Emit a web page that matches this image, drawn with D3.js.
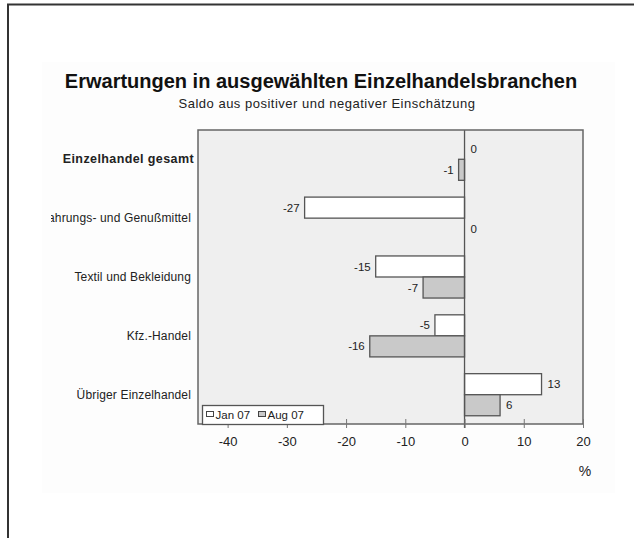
<!DOCTYPE html>
<html>
<head>
<meta charset="utf-8">
<script src="https://cdn.jsdelivr.net/npm/d3@7"></script>
<style>
  html, body { margin: 0; padding: 0; background: #fff; }
  svg { display: block; font-family: "Liberation Sans", Arial, sans-serif; }
</style>
</head>
<body>
<svg id="chart" width="634" height="538"></svg>
<script>
// ---- data ----
const categories = ["Einzelhandel gesamt", "Nahrungs- und Genußmittel", "Textil und Bekleidung", "Kfz.-Handel", "Übriger Einzelhandel"];
const seriesNames = ["Jan 07", "Aug 07"];
const jan07 = [0, -27, -15, -5, 13];
const aug07 = [-1, 0, -7, -16, 6];
const xTicks = [-40, -30, -20, -10, 0, 10, 20];
const titleText = "Erwartungen in ausgewählten Einzelhandelsbranchen";
const subtitleText = "Saldo aus positiver und negativer Einschätzung";
const unitText = "%";

// ---- layout ----
const svg = d3.select("#chart");
const W = 634, H = 538;
const plot = { left: 198, right: 583, top: 130, bottom: 424 };
const colors = { "Jan 07": "#ffffff", "Aug 07": "#c9c9c9" };
const textColor = "#222";

// page frame
svg.append("rect").attr("x", 42).attr("y", 62).attr("width", 573).attr("height", 431).attr("fill", "#fdfdfd");
svg.append("line").attr("x1", 7).attr("x2", W).attr("y1", 4.5).attr("y2", 4.5).attr("stroke", "#333").attr("stroke-width", 2);
svg.append("line").attr("x1", 8).attr("x2", 8).attr("y1", 4).attr("y2", H).attr("stroke", "#333").attr("stroke-width", 2);

// titles
svg.append("text").attr("x", 321).attr("y", 88).attr("text-anchor", "middle")
  .attr("font-size", 20).attr("font-weight", "bold").attr("fill", "#111").text(titleText);
svg.append("text").attr("x", 327).attr("y", 108).attr("text-anchor", "middle")
  .attr("font-size", 13).attr("letter-spacing", 0.5).attr("fill", textColor).text(subtitleText);

// scales
const x = d3.scaleLinear().domain([-45, 20]).range([plot.left, plot.right]);
const y = d3.scaleBand().domain(categories).range([plot.top, plot.bottom]).paddingInner(0.285).paddingOuter(0.14);
const ySub = d3.scaleBand().domain(seriesNames).range([0, y.bandwidth()]);

// plot background
svg.append("rect").attr("x", plot.left).attr("y", plot.top)
  .attr("width", plot.right - plot.left).attr("height", plot.bottom - plot.top)
  .attr("fill", "#efefef");

// bars
const rows = categories.map((c, i) => ({ cat: c, values: [
  { s: "Jan 07", v: jan07[i] }, { s: "Aug 07", v: aug07[i] } ] }));

const g = svg.append("g");
rows.forEach(r => {
  r.values.forEach(d => {
    const y0 = y(r.cat) + ySub(d.s);
    const h = ySub.bandwidth();
    if (d.v !== 0) {
      g.append("rect")
        .attr("x", x(Math.min(0, d.v)))
        .attr("y", y0)
        .attr("width", Math.abs(x(d.v) - x(0)))
        .attr("height", h)
        .attr("fill", colors[d.s])
        .attr("stroke", "#555").attr("stroke-width", 1.3);
    }
    const neg = d.v < 0;
    g.append("text")
      .attr("x", neg ? x(d.v) - 5 : x(d.v) + 6)
      .attr("y", y0 + h / 2)
      .attr("dy", "0.35em")
      .attr("text-anchor", neg ? "end" : "start")
      .attr("font-size", 11.5).attr("fill", textColor)
      .text(String(d.v));
  });
});

// zero line
svg.append("line").attr("x1", x(0)).attr("x2", x(0)).attr("y1", plot.top).attr("y2", plot.bottom + 4)
  .attr("stroke", "#555").attr("stroke-width", 1.3);

// plot border
svg.append("rect").attr("x", plot.left).attr("y", plot.top)
  .attr("width", plot.right - plot.left).attr("height", plot.bottom - plot.top)
  .attr("fill", "none").attr("stroke", "#666").attr("stroke-width", 1.5);

// x axis
const xAxis = d3.axisBottom(x).tickValues(xTicks).tickFormat(d => String(d))
  .tickSizeInner(4).tickSizeOuter(0).tickPadding(9);
const ax = svg.append("g").attr("transform", `translate(0,${plot.bottom})`).call(xAxis);
ax.select(".domain").remove();
ax.selectAll(".tick line").attr("y1", -5).attr("y2", 4).attr("stroke", "#777");
ax.selectAll(".tick text").attr("font-size", 13).attr("fill", textColor)
  .attr("font-family", "Liberation Sans, Arial, sans-serif");

// unit
svg.append("text").attr("x", 585).attr("y", 476).attr("text-anchor", "middle")
  .attr("font-size", 14).attr("fill", textColor).text(unitText);

// category labels (clipped at left)
svg.append("clipPath").attr("id", "lblclip").append("rect")
  .attr("x", 51).attr("y", 0).attr("width", 200).attr("height", H);
const wrap = svg.append("g").attr("clip-path", "url(#lblclip)");
const yAxis = d3.axisLeft(y).tickSize(0).tickPadding(0);
const ay = wrap.append("g").attr("transform", `translate(191,0)`).call(yAxis);
ay.select(".domain").remove();
ay.selectAll(".tick text").attr("fill", textColor)
  .attr("font-family", "Liberation Sans, Arial, sans-serif")
  .attr("font-size", (d, i) => i === 0 ? 12.5 : 12)
  .attr("font-weight", (d, i) => i === 0 ? "bold" : "normal")
  .attr("letter-spacing", (d, i) => i === 0 ? 0.4 : 0.15)
  .attr("x", (d, i) => i === 0 ? 3 : 0);

// legend
const lg = svg.append("g").attr("transform", `translate(202.5,405.5)`);
lg.append("rect").attr("width", 121).attr("height", 19).attr("fill", "#fff").attr("stroke", "#555").attr("stroke-width", 1.3);
const legX = [4, 56];
seriesNames.forEach((s, i) => {
  lg.append("rect").attr("x", legX[i]).attr("y", 6).attr("width", 7).attr("height", 5)
    .attr("fill", colors[s]).attr("stroke", "#444").attr("stroke-width", 1);
  lg.append("text").attr("x", legX[i] + 9).attr("y", 9.5).attr("dy", "0.35em")
    .attr("font-size", 11.5).attr("fill", textColor).text(s);
});
</script>
</body>
</html>
